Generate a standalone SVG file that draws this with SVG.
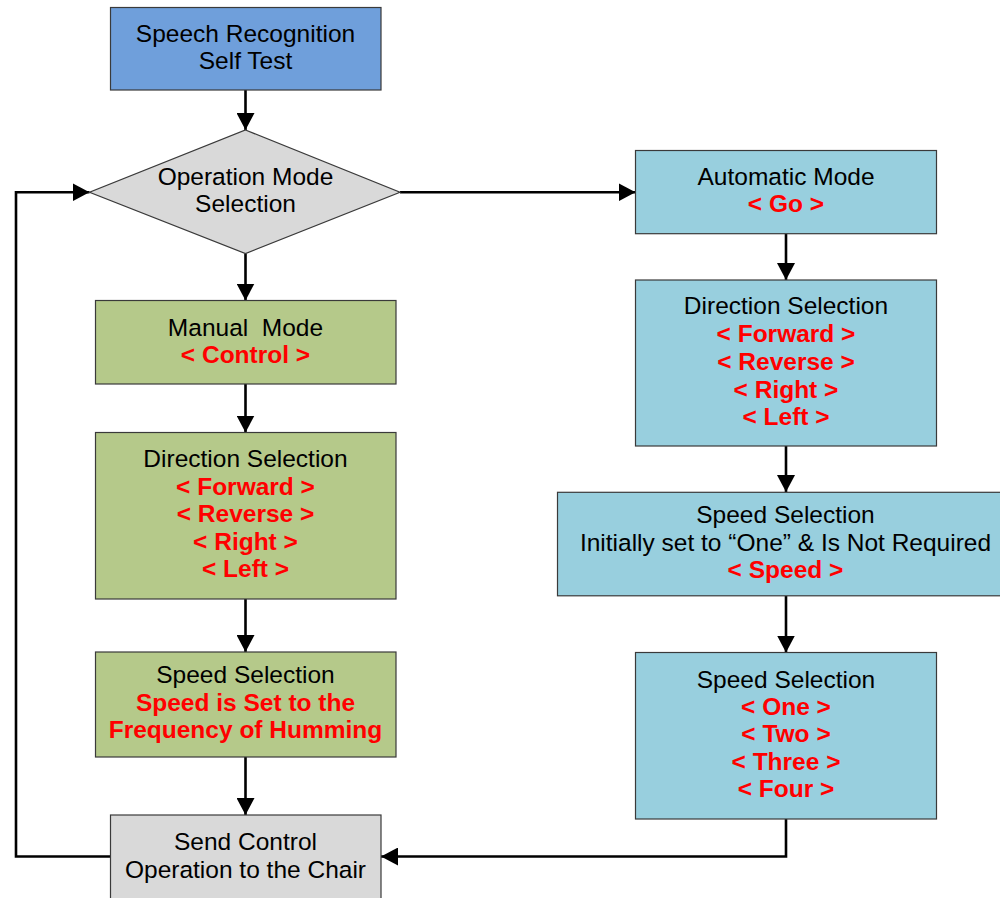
<svg xmlns="http://www.w3.org/2000/svg" width="1000" height="898" viewBox="0 0 1000 898">
  <defs>
    <marker id="arrow" markerUnits="userSpaceOnUse" markerWidth="18" markerHeight="18" refX="17" refY="9" orient="auto">
      <path d="M0,0 L17,9 L0,18 Z" fill="#000"/>
    </marker>
    <style>
      .box { stroke: #3a3a3a; stroke-width: 1.2; }
      .blue { fill: #6f9fdb; }
      .grey { fill: #d9d9d9; }
      .green { fill: #b5c98a; }
      .teal { fill: #98cfde; }
      text { font-family: "Liberation Sans", Arial, sans-serif; font-size: 24.5px; text-anchor: middle; fill: #000; white-space: pre; }
      text .key { font-weight: bold; fill: #ff0000; }
      .wire { fill: none; stroke: #000; stroke-width: 2.6; }
    </style>
  </defs>

  <rect width="1000" height="898" fill="#ffffff"/>

  <!-- connectors -->
  <g id="connectors">
    <line class="wire" x1="245.5" y1="90" x2="245.5" y2="130" marker-end="url(#arrow)"/>
    <line class="wire" x1="400" y1="192.3" x2="635.5" y2="192.3" marker-end="url(#arrow)"/>
    <line class="wire" x1="245.5" y1="253.5" x2="245.5" y2="300.5" marker-end="url(#arrow)"/>
    <line class="wire" x1="245.5" y1="384" x2="245.5" y2="432.5" marker-end="url(#arrow)"/>
    <line class="wire" x1="245.5" y1="599" x2="245.5" y2="652" marker-end="url(#arrow)"/>
    <line class="wire" x1="245.5" y1="757" x2="245.5" y2="815" marker-end="url(#arrow)"/>
    <line class="wire" x1="786" y1="233.7" x2="786" y2="280" marker-end="url(#arrow)"/>
    <line class="wire" x1="786" y1="446" x2="786" y2="492" marker-end="url(#arrow)"/>
    <line class="wire" x1="786" y1="596" x2="786" y2="652.5" marker-end="url(#arrow)"/>
    <polyline class="wire" points="786,819 786,856.5 381,856.5" marker-end="url(#arrow)"/>
    <polyline class="wire" points="110.5,856.5 16,856.5 16,192.3 89.5,192.3" marker-end="url(#arrow)"/>
  </g>

  <!-- start -->
  <g id="self-test">
    <rect class="box blue" x="110.5" y="7.5" width="270.5" height="82.5"/>
    <text x="245.5" y="42">Speech Recognition</text>
    <text x="245.5" y="69">Self Test</text>
  </g>

  <!-- decision -->
  <g id="mode-selection">
    <polygon class="box grey" points="245.5,130 400,192.3 245.5,253.5 89.5,192.3"/>
    <text x="245.5" y="185">Operation Mode</text>
    <text x="245.5" y="212">Selection</text>
  </g>

  <!-- manual branch -->
  <g id="manual-mode">
    <rect class="box green" x="95.5" y="300.5" width="300.5" height="83.5"/>
    <text x="245.5" y="336" xml:space="preserve">Manual  Mode</text>
    <text x="245.5" y="363"><tspan class="key">&lt; Control &gt;</tspan></text>
  </g>

  <g id="manual-direction">
    <rect class="box green" x="95.5" y="432.5" width="300.5" height="166.5"/>
    <text x="245.5" y="467">Direction Selection</text>
    <text x="245.5" y="494.5"><tspan class="key">&lt; Forward &gt;</tspan></text>
    <text x="245.5" y="522"><tspan class="key">&lt; Reverse &gt;</tspan></text>
    <text x="245.5" y="549.5"><tspan class="key">&lt; Right &gt;</tspan></text>
    <text x="245.5" y="577"><tspan class="key">&lt; Left &gt;</tspan></text>
  </g>

  <g id="manual-speed">
    <rect class="box green" x="95.5" y="652" width="300.5" height="105"/>
    <text x="245.5" y="683">Speed Selection</text>
    <text x="245.5" y="711"><tspan class="key">Speed is Set to the</tspan></text>
    <text x="245.5" y="738"><tspan class="key">Frequency of Humming</tspan></text>
  </g>

  <!-- output -->
  <g id="send-control">
    <rect class="box grey" x="110.5" y="815" width="270.5" height="90"/>
    <text x="245.5" y="850">Send Control</text>
    <text x="245.5" y="878">Operation to the Chair</text>
  </g>

  <!-- automatic branch -->
  <g id="automatic-mode">
    <rect class="box teal" x="635.5" y="150.5" width="301" height="83.2"/>
    <text x="786" y="184.5">Automatic Mode</text>
    <text x="786" y="211.5"><tspan class="key">&lt; Go &gt;</tspan></text>
  </g>

  <g id="auto-direction">
    <rect class="box teal" x="635.5" y="280" width="301" height="166"/>
    <text x="786" y="314">Direction Selection</text>
    <text x="786" y="342"><tspan class="key">&lt; Forward &gt;</tspan></text>
    <text x="786" y="370"><tspan class="key">&lt; Reverse &gt;</tspan></text>
    <text x="786" y="397.5"><tspan class="key">&lt; Right &gt;</tspan></text>
    <text x="786" y="425"><tspan class="key">&lt; Left &gt;</tspan></text>
  </g>

  <g id="auto-speed-default">
    <rect class="box teal" x="557.5" y="492.3" width="460" height="103.5"/>
    <text x="785.5" y="522.5">Speed Selection</text>
    <text x="785.5" y="550.5">Initially set to “One” &amp; Is Not Required</text>
    <text x="785.5" y="578"><tspan class="key">&lt; Speed &gt;</tspan></text>
  </g>

  <g id="auto-speed">
    <rect class="box teal" x="635.5" y="652.5" width="301" height="166.5"/>
    <text x="786" y="688">Speed Selection</text>
    <text x="786" y="715"><tspan class="key">&lt; One &gt;</tspan></text>
    <text x="786" y="742"><tspan class="key">&lt; Two &gt;</tspan></text>
    <text x="786" y="770"><tspan class="key">&lt; Three &gt;</tspan></text>
    <text x="786" y="797"><tspan class="key">&lt; Four &gt;</tspan></text>
  </g>
</svg>
